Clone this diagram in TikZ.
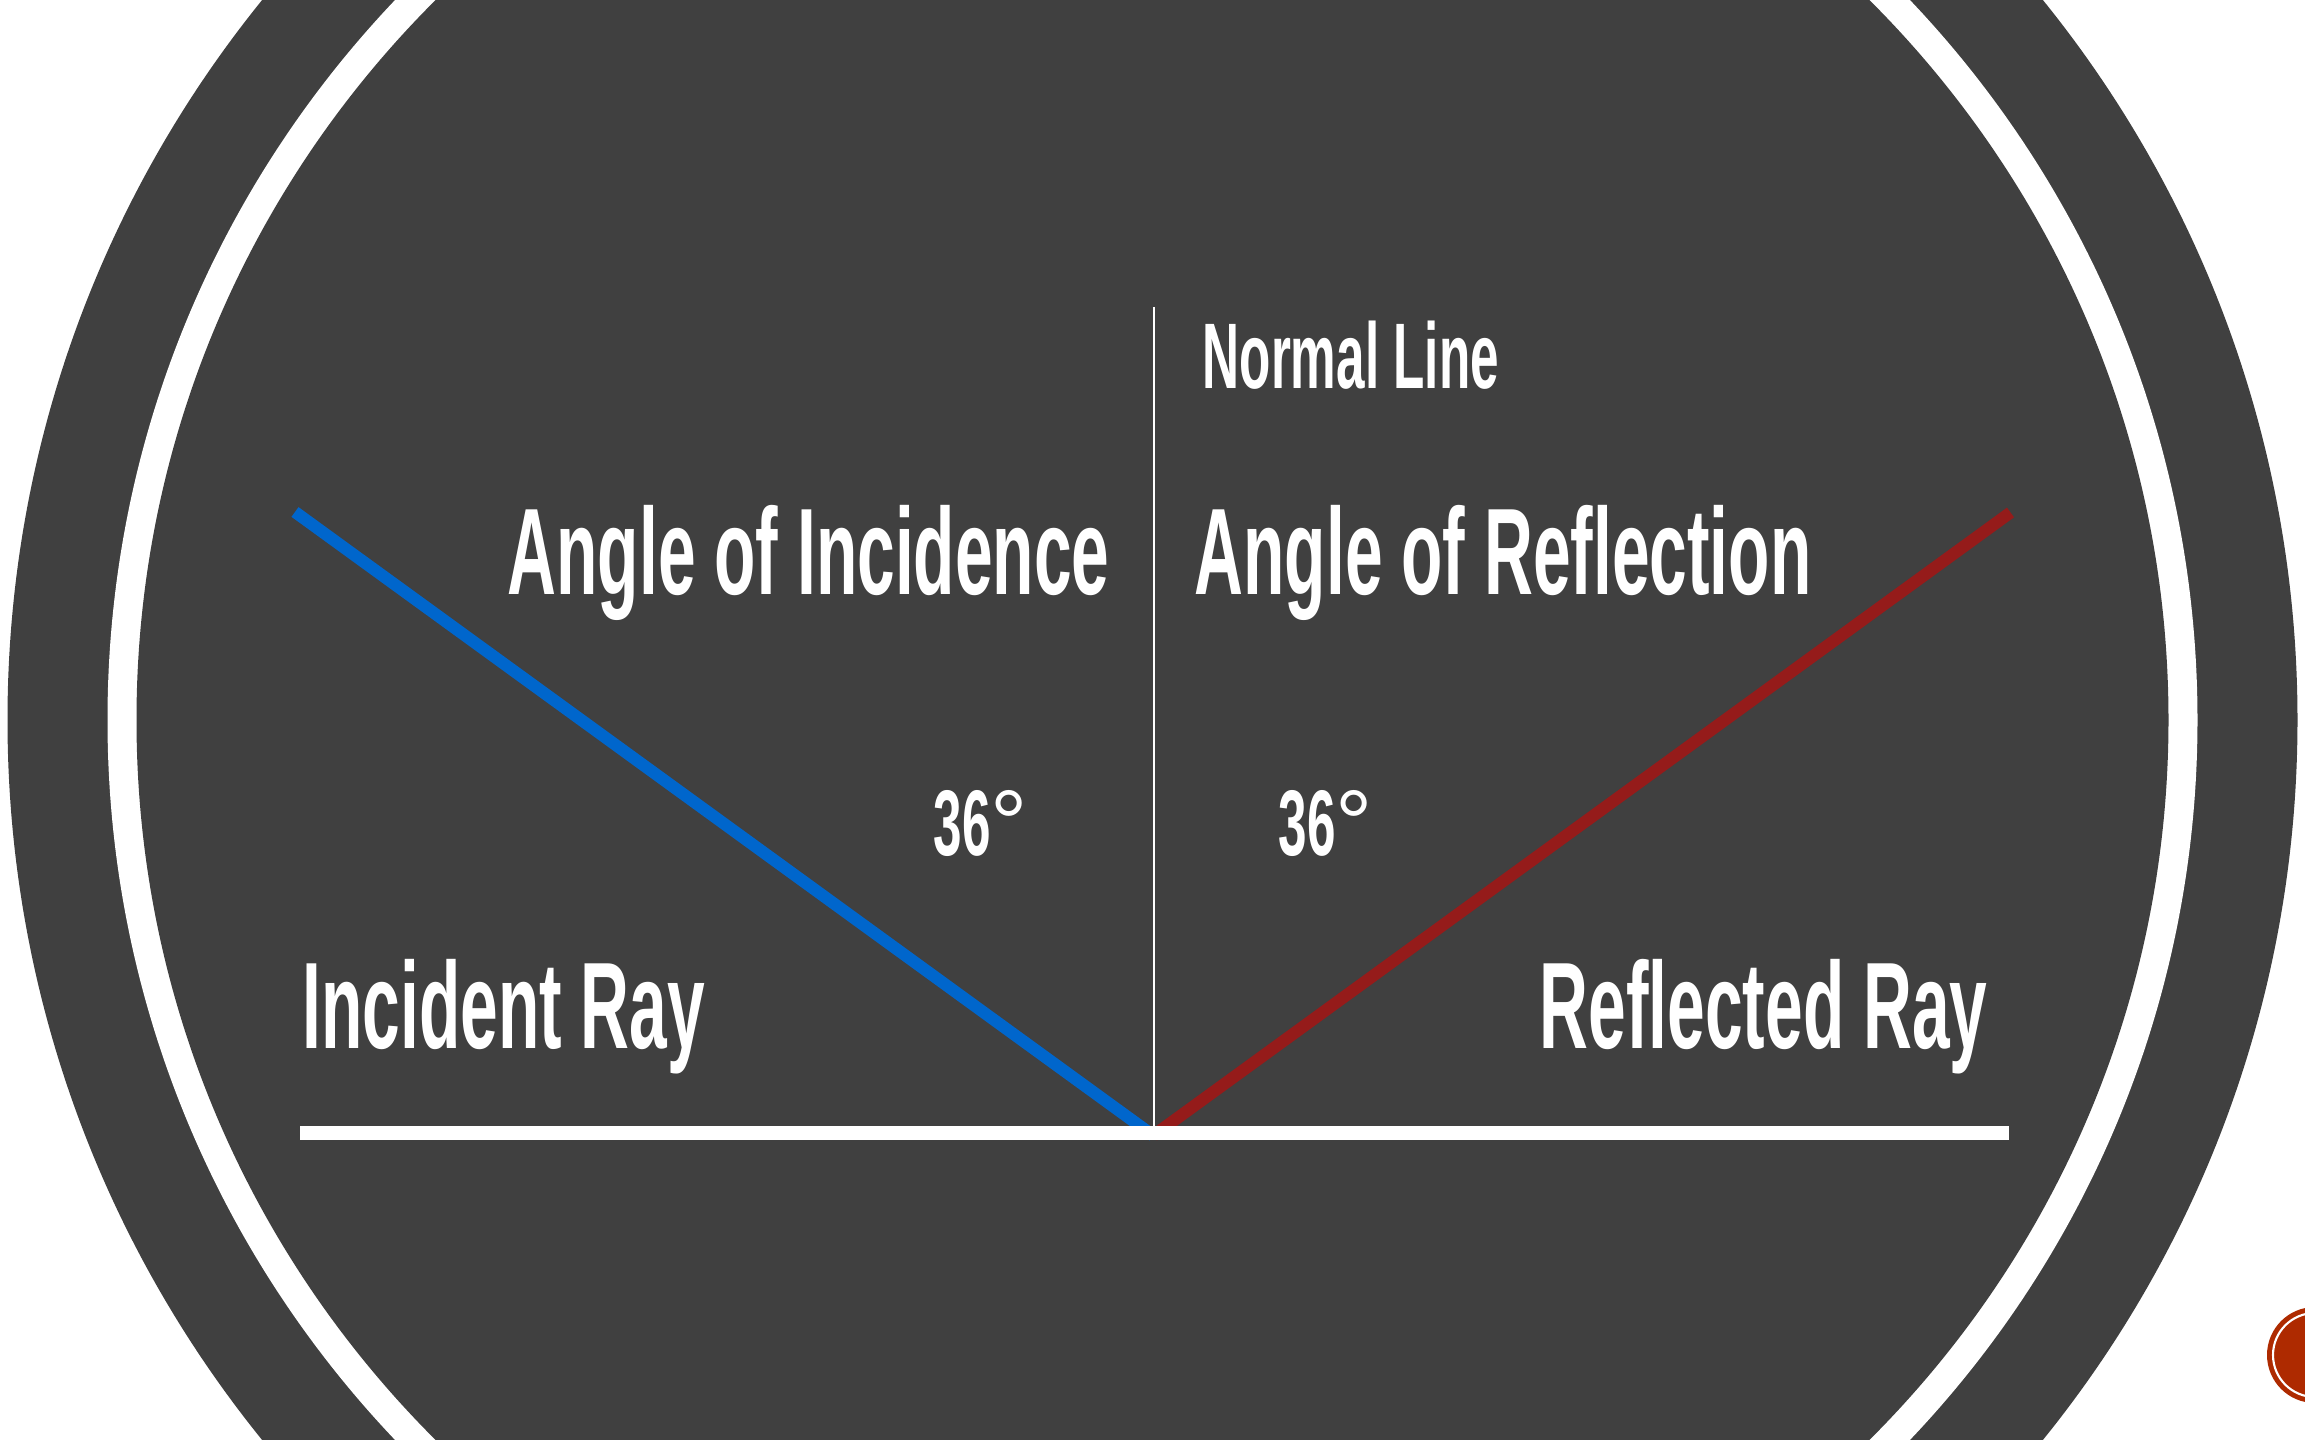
\documentclass[tikz,border=0pt]{standalone}
\usepackage{fontspec}
\newfontfamily\narrowfont{Liberation Sans}[FakeStretch=0.55]
\newfontfamily\roundfont{Liberation Sans}
\usepackage{tikz}
\usetikzlibrary{positioning}
\definecolor{slate}{RGB}{64,64,64}
\definecolor{incblue}{RGB}{0,102,204}
\definecolor{refred}{RGB}{149,27,26}
\definecolor{badge}{RGB}{174,42,0}
\newcommand{\degsign}{{\roundfont\mdseries°}}

\begin{document}
\begin{tikzpicture}[x=0.01cm,y=-0.01cm,
  bigtxt/.style={text=white,inner sep=0pt,anchor=base west,font=\narrowfont\bfseries\fontsize{35}{40}\selectfont},
  smalltxt/.style={text=white,inner sep=0pt,anchor=base west,font=\narrowfont\bfseries\fontsize{26.5}{30}\selectfont},
  ray/.style={line width=12*0.2845pt}]
\useasboundingbox (0,0) rectangle (2305,1440);
\clip (0,0) rectangle (2305,1440);
\fill[white] (0,0) rectangle (2305,1440);
% rings of the slide
\fill[slate] (1152.5,720) circle[radius=1145];
\fill[white] (1152.5,720) circle[radius=1045];
\fill[slate] (1152.5,720) circle[radius=1016];
% badge in the corner
\fill[badge] (2315,1355) circle[radius=48];
\draw[white,line width=0.6pt] (2315,1355) circle[radius=42];
% rays and mirror
\coordinate (hit) at (1153.3,1135.6);
\coordinate (inc) at (295,512);
\coordinate (refl) at (2010.5,512.5);
\coordinate (ntop) at (1154,307);
\coordinate (nbot) at (1154,1126);
\coordinate (mleft) at (300,1133);
\coordinate (mright) at (2009,1133);
\draw[ray,incblue] (inc)--(hit);
\draw[ray,refred] (hit)--(refl);
\draw[white,line width=0.45pt] (ntop)--(nbot);
\draw[white,line width=14*0.2845pt] (mleft)--(mright);
% labels
\node[smalltxt] (normal) at (1202,389) {Normal Line};
\node[bigtxt] (aoi) at (507,595) {Angle of Incidence};
\node[bigtxt] (aor) at (1194,595) {Angle of Reflection};
\node[bigtxt] (iray) at (302,1048) {Incident Ray};
\node[bigtxt] (rray) at (1539,1048) {Reflected Ray};
\node[smalltxt] (degl) at (933,856) {36\degsign};
\node[smalltxt] (degr) at (1278,856) {36\degsign};
\end{tikzpicture}
\end{document}
